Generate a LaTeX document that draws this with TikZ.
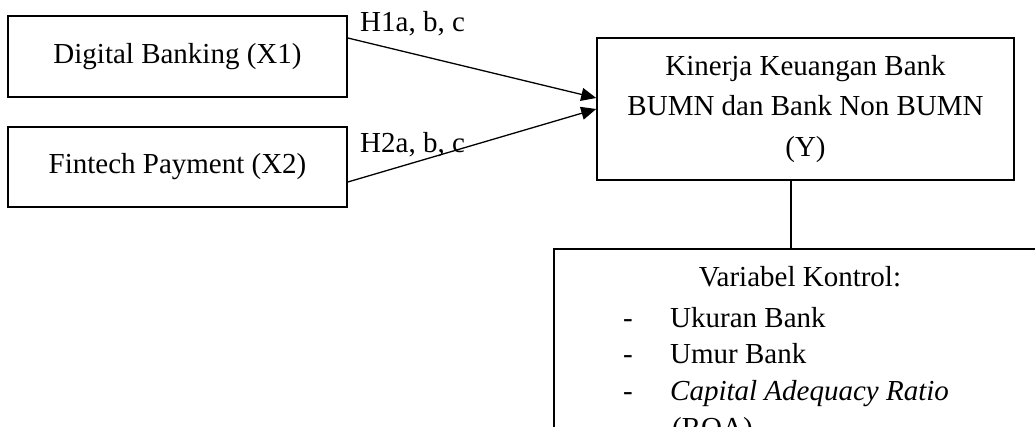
\documentclass[tikz,border=0pt]{standalone}
\usepackage{fontspec}
\setmainfont{Liberation Serif}
\usetikzlibrary{arrows.meta}
\begin{document}
\begin{tikzpicture}[x=1pt, y=-1pt, font=\fontsize{29}{40.5}\selectfont,
  box/.style={draw, line width=1.6pt, rectangle},
  txt/.style={inner sep=0pt},
  link/.style={line width=1.3pt, -{Triangle[length=15pt, width=13pt]}}]
\path[use as bounding box, clip] (0,0) rectangle (1035,427);

\node[box, minimum width=339, minimum height=81] (a) at (177.5, 56.5) {Digital Banking (X1)};
\node[box, minimum width=339, minimum height=80] (b) at (177.5, 167) {Fintech Payment (X2)};
\node[box, minimum width=417, minimum height=142, align=center] (c) at (805.5, 109) {Kinerja Keuangan Bank\\BUMN dan Bank Non BUMN\\(Y)};
\node[box, anchor=north west, minimum width=520, minimum height=250] (d) at (553, 248) {};

\draw[link] ([yshift=18.5pt]a.east) -- ([yshift=11pt]c.west);
\draw[link] ([yshift=-15pt]b.east) -- ([yshift=0pt]c.west);
\draw[line width=1.3pt] ([xshift=-14.5pt]c.south) -- ([xshift=-14.5pt]c.south |- d.north);

\node[txt, anchor=base west] (h1) at (360, 32) {H1a, b, c};
\node[txt, anchor=base west] (h2) at (360, 153) {H2a, b, c};

\node[txt, anchor=base] (kontrol) at (800, 287) {Variabel Kontrol:};
\foreach \y/\t [count=\i] in {327/Ukuran Bank, 363/Umur Bank, 400/\textit{Capital Adequacy Ratio}} {
  \node[txt, anchor=base west] (dash\i) at (623, \y) {-};
  \node[txt, anchor=base west] (item\i) at (670, \y) {\t};
}
\node[txt, anchor=base west] (roa) at (672, 437) {(ROA)};
\end{tikzpicture}
\end{document}
